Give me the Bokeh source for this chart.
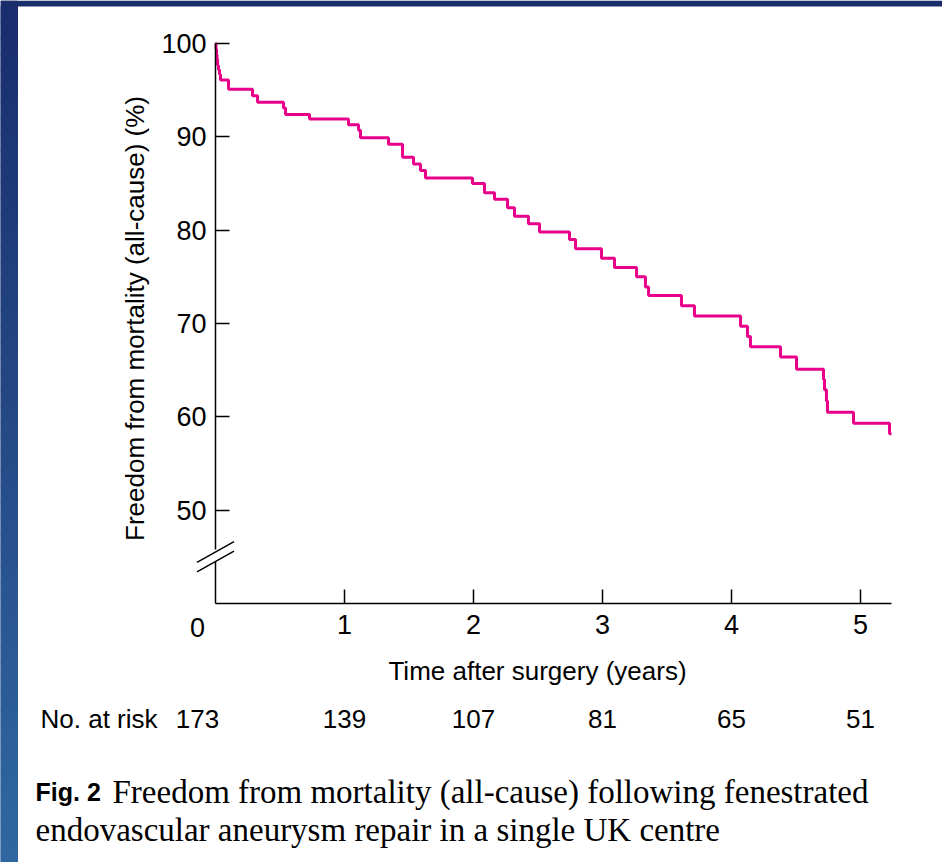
import math

from bokeh.core.properties import value
from bokeh.embed import file_html
from bokeh.models import FixedTicker, LinearAxis, Range1d
from bokeh.plotting import figure
from bokeh.resources import INLINE

# Kaplan-Meier estimate: event times (years) and freedom from mortality (%) after each step
event_years = [0.004, 0.008, 0.012, 0.016, 0.023, 0.031, 0.039, 0.101,
               0.287, 0.326, 0.527, 0.543, 0.729,
               1.031, 1.109, 1.124, 1.341, 1.450, 1.535, 1.589, 1.628,
               1.992, 2.085, 2.163, 2.264, 2.318, 2.426, 2.512, 2.744, 2.791,
               2.992, 3.093, 3.264, 3.333, 3.357, 3.612, 3.713,
               4.070, 4.124, 4.147, 4.380, 4.504, 4.713, 4.721, 4.736, 4.744,
               4.946, 5.225]
survival_pct = [99.4, 98.8, 98.3, 97.7, 97.2, 96.7, 96.1, 95.1,
                94.4, 93.7, 93.1, 92.4, 91.9,
                91.3, 90.7, 89.9, 89.2, 87.8, 87.1, 86.4, 85.6,
                85.0, 84.0, 83.3, 82.4, 81.5, 80.7, 79.8, 79.0, 78.0,
                77.0, 76.0, 75.0, 73.9, 73.0, 71.9, 70.8,
                69.7, 68.6, 67.5, 66.4, 65.1, 64.0, 62.9, 61.7, 60.5,
                59.3, 58.2]
follow_up_end = 5.24

# axes
y_ticks = [50, 60, 70, 80, 90, 100]
x_ticks = [1, 2, 3, 4, 5]
y_floor = 40

# numbers at risk
risk_years = [0, 1, 2, 3, 4, 5]
at_risk = [173, 139, 107, 81, 65, 51]

title_y = "Freedom from mortality (all-cause) (%)"
title_x = "Time after surgery (years)"
caption_tag = "Fig. 2"
caption_1 = "Freedom from mortality (all-cause) following fenestrated"
caption_2 = "endovascular aneurysm repair in a single UK centre"

# page geometry (pixels) -> data coordinates
W, H = 942, 862
X0_PX, Y100_PX = 215, 43
PX_PER_YEAR = 129.0
PX_PER_PCT = 560.0 / 60.0


def xd(px):
    return (px - X0_PX) / PX_PER_YEAR


def yd(py):
    return 100 - (py - Y100_PX) / PX_PER_PCT


SANS = value("Liberation Sans")
SERIF = value("Liberation Serif")
MAGENTA = "#e8008a"
TICK_FONT = "27px"
LABEL_FONT = "26px"

p = figure(width=W, height=H, x_range=Range1d(xd(0), xd(W)), y_range=Range1d(yd(H), yd(0)),
           output_backend="svg", toolbar_location=None, min_border=0,
           x_axis_type=None, y_axis_type=None)
p.outline_line_color = None
p.background_fill_color = "white"
p.border_fill_color = "white"

# dark blue page border: solid top strip, shaded strip down the left side
p.quad(left=[xd(0)], right=[xd(W)], top=[yd(0)], bottom=[yd(6)], fill_color="#1a2d6c", line_color=None)
band = 16
top_rgb, bot_rgb = (26, 45, 108), (48, 104, 161)
lefts, rights, tops, bottoms, colors = [], [], [], [], []
py = 6
while py < H:
    f = (py - 6) / (H - 6)
    rgb = tuple(int(round(a + (b - a) * f)) for a, b in zip(top_rgb, bot_rgb))
    lefts.append(xd(0)); rights.append(xd(17))
    tops.append(yd(py)); bottoms.append(yd(min(py + band, H)))
    colors.append("#%02x%02x%02x" % rgb)
    py += band
p.quad(left=lefts, right=rights, top=tops, bottom=bottoms, fill_color=colors, line_color=colors, line_width=1)
p.quad(left=[xd(0)], right=[xd(17)], top=[yd(0)], bottom=[yd(6)], fill_color="#1a2d6c", line_color=None)

# y axis (upper part, down to the break)
gap_top, gap_bottom = yd(549), yd(561)
yaxis = LinearAxis(fixed_location=0, bounds=(gap_top, 100), ticker=FixedTicker(ticks=y_ticks))
yaxis.axis_line_color = "black"
yaxis.axis_line_width = 1.5
yaxis.major_tick_in = 14
yaxis.major_tick_out = 0
yaxis.major_tick_line_width = 1.5
yaxis.minor_tick_in = 0
yaxis.minor_tick_out = 0
yaxis.major_label_standoff = 9
yaxis.major_label_text_font = "Liberation Sans"
yaxis.major_label_text_font_size = TICK_FONT
yaxis.major_label_text_color = "black"
p.add_layout(yaxis, "left")

# x axis
xaxis = LinearAxis(fixed_location=y_floor, bounds=(0, follow_up_end), ticker=FixedTicker(ticks=x_ticks))
xaxis.axis_line_color = "black"
xaxis.axis_line_width = 1.5
xaxis.major_tick_in = 14
xaxis.major_tick_out = 0
xaxis.major_tick_line_width = 1.5
xaxis.minor_tick_in = 0
xaxis.minor_tick_out = 0
xaxis.major_label_standoff = 11
xaxis.major_label_text_font = "Liberation Sans"
xaxis.major_label_text_font_size = TICK_FONT
xaxis.major_label_text_color = "black"
p.add_layout(xaxis, "below")

# lower stub of the y axis below the break, and the break marks
p.segment(x0=[0], y0=[gap_bottom], x1=[0], y1=[y_floor], line_color="black", line_width=1.5)
dx, dy = 18.5 / PX_PER_YEAR, 10.3 / PX_PER_PCT
mark_centres = [yd(551.5), yd(561.0)]
p.segment(x0=[-dx, -dx], y0=[c - dy for c in mark_centres],
          x1=[dx, dx], y1=[c + dy for c in mark_centres], line_color="black", line_width=1.5)

# survival curve
p.step(x=[0] + event_years + [follow_up_end],
       y=[100] + survival_pct + [survival_pct[-1]],
       mode="after", line_color=MAGENTA, line_width=3)

# origin label
p.text(x=[xd(197)], y=[yd(627)], text=["0"], text_font=SANS, text_font_size=TICK_FONT,
       text_align="center", text_baseline="middle", text_color="black")

# axis titles
p.text(x=[xd(537)], y=[yd(670)], text=[title_x], text_font=SANS, text_font_size=LABEL_FONT,
       text_align="center", text_baseline="middle", text_color="black")
p.text(x=[xd(134)], y=[yd(318)], text=[title_y], text_font=SANS, text_font_size=LABEL_FONT,
       angle=math.pi / 2, text_align="center", text_baseline="middle", text_color="black")

# numbers at risk
p.text(x=[xd(40)], y=[yd(718)], text=["No. at risk"], text_font=SANS, text_font_size=LABEL_FONT,
       text_align="left", text_baseline="middle", text_color="black")
risk_offsets = [-18, 0, 0, 0, 0, 0]
p.text(x=risk_years, y=[yd(718)] * len(at_risk), text=[str(n) for n in at_risk],
       x_offset=risk_offsets, text_font=SANS, text_font_size=LABEL_FONT,
       text_align="center", text_baseline="middle", text_color="black")

# caption
p.text(x=[xd(35)], y=[yd(791)], text=[caption_tag], text_font=SANS, text_font_size="25px",
       text_font_style="bold", text_align="left", text_baseline="alphabetic", text_color="black")
p.text(x=[xd(112)], y=[yd(791)], text=[caption_1], text_font=SERIF, text_font_size="33px",
       text_align="left", text_baseline="alphabetic", text_color="black")
p.text(x=[xd(35)], y=[yd(829)], text=[caption_2], text_font=SERIF, text_font_size="33px",
       text_align="left", text_baseline="alphabetic", text_color="black")

open("out.html", "w").write(file_html(p, INLINE))
